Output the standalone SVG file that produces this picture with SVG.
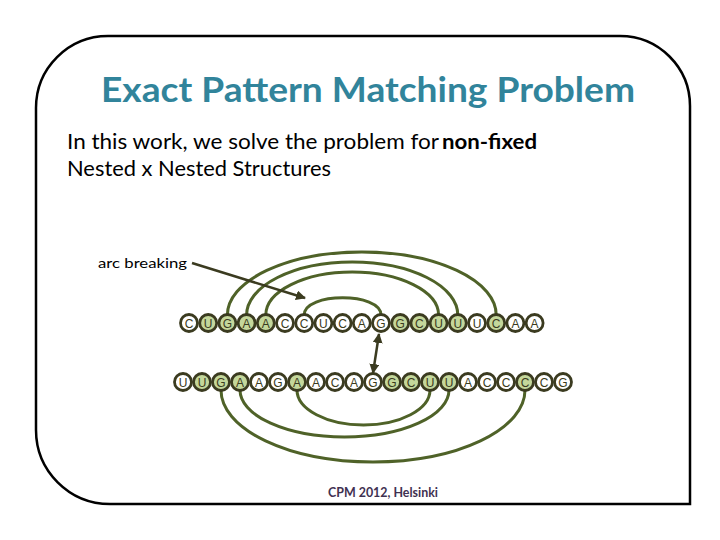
<svg xmlns="http://www.w3.org/2000/svg" width="720" height="540" viewBox="0 0 720 540">
<defs>
<style>
.frame{fill:none;stroke:#000;stroke-width:2.5}
.title{font-family:Lato,"Liberation Sans",sans-serif;font-weight:bold;font-size:35px;fill:#31849b}
.body{font-family:Lato,"Liberation Sans",sans-serif;font-size:21px;fill:#000}
.bold{font-weight:bold}
.small{font-family:Lato,"Liberation Sans",sans-serif;font-size:14px;fill:#000}
.foot{font-family:Lato,"Liberation Sans",sans-serif;font-size:13px;fill:#3f3151;font-weight:bold}
.nd circle{fill:#fff;stroke:#3b3b20;stroke-width:2.8}
.nd.hl circle{fill:#c4d79b}
.nd text{font-family:"Liberation Sans",Arial,sans-serif;font-size:12px;fill:#3b3b20;text-anchor:middle}
.arc{fill:none;stroke:#4f6228;stroke-width:3}
.ptr{fill:none;stroke:#3b3b20;stroke-width:2.5}
</style>
<marker id="ah" viewBox="0 0 10 10" refX="9" refY="5" markerWidth="4" markerHeight="4" orient="auto-start-reverse" markerUnits="strokeWidth">
<path d="M0,0 L10,5 L0,10 z" fill="#3b3b20"/>
</marker>
</defs>
<rect width="720" height="540" fill="#fff"/>
<path class="frame" d="M108,36 L620,36 A70,70 0 0 1 690,106 L690,504 L110,504 A74,74 0 0 1 36,430 L36,108 A72,72 0 0 1 108,36 Z"/>
<text class="title" x="101" y="102" textLength="534" lengthAdjust="spacingAndGlyphs">Exact Pattern Matching Problem</text>
<text class="body" x="67" y="149" textLength="372" lengthAdjust="spacingAndGlyphs">In this work, we solve the problem for</text>
<text class="body bold" x="442" y="149" textLength="95" lengthAdjust="spacingAndGlyphs">non-fixed</text>
<text class="body" x="67" y="176" textLength="264" lengthAdjust="spacingAndGlyphs">Nested x Nested Structures</text>
<text class="small" x="98" y="268" textLength="89" lengthAdjust="spacingAndGlyphs">arc breaking</text>
<text class="foot" x="328" y="497" textLength="110" lengthAdjust="spacingAndGlyphs">CPM 2012, Helsinki</text>
<g id="connectors">
<path class="arc" d="M227.4,315 A134.4,63 0 0 1 496.2,315"/>
<path class="arc" d="M246.6,315 A105.6,53 0 0 1 457.8,315"/>
<path class="arc" d="M265.8,315 A86.4,43 0 0 1 438.6,315"/>
<path class="arc" d="M304.2,315 C304.2,292 381,292 381,315"/>
<path class="arc" d="M221,390 A152,72 0 0 0 525,390"/>
<path class="arc" d="M240,390 A104.5,47 0 0 0 449,390"/>
<path class="arc" d="M297,390 A66.5,35 0 0 0 430,390"/>
<path class="ptr" marker-end="url(#ah)" d="M192,263 L305,298"/>
<path class="ptr" marker-start="url(#ah)" marker-end="url(#ah)" d="M379,334 L373,373"/>
</g>
<g id="top-row">
<g id="t0" class="nd"><circle cx="189" cy="323" r="8.5"/><text x="189" y="327.5">C</text></g>
<g id="t1" class="nd hl"><circle cx="208.2" cy="323" r="8.5"/><text x="208.2" y="327.5">U</text></g>
<g id="t2" class="nd hl"><circle cx="227.4" cy="323" r="8.5"/><text x="227.4" y="327.5">G</text></g>
<g id="t3" class="nd hl"><circle cx="246.6" cy="323" r="8.5"/><text x="246.6" y="327.5">A</text></g>
<g id="t4" class="nd hl"><circle cx="265.8" cy="323" r="8.5"/><text x="265.8" y="327.5">A</text></g>
<g id="t5" class="nd"><circle cx="285" cy="323" r="8.5"/><text x="285" y="327.5">C</text></g>
<g id="t6" class="nd"><circle cx="304.2" cy="323" r="8.5"/><text x="304.2" y="327.5">C</text></g>
<g id="t7" class="nd"><circle cx="323.4" cy="323" r="8.5"/><text x="323.4" y="327.5">U</text></g>
<g id="t8" class="nd"><circle cx="342.6" cy="323" r="8.5"/><text x="342.6" y="327.5">C</text></g>
<g id="t9" class="nd"><circle cx="361.8" cy="323" r="8.5"/><text x="361.8" y="327.5">A</text></g>
<g id="t10" class="nd"><circle cx="381" cy="323" r="8.5"/><text x="381" y="327.5">G</text></g>
<g id="t11" class="nd hl"><circle cx="400.2" cy="323" r="8.5"/><text x="400.2" y="327.5">G</text></g>
<g id="t12" class="nd hl"><circle cx="419.4" cy="323" r="8.5"/><text x="419.4" y="327.5">C</text></g>
<g id="t13" class="nd hl"><circle cx="438.6" cy="323" r="8.5"/><text x="438.6" y="327.5">U</text></g>
<g id="t14" class="nd hl"><circle cx="457.8" cy="323" r="8.5"/><text x="457.8" y="327.5">U</text></g>
<g id="t15" class="nd"><circle cx="477" cy="323" r="8.5"/><text x="477" y="327.5">U</text></g>
<g id="t16" class="nd hl"><circle cx="496.2" cy="323" r="8.5"/><text x="496.2" y="327.5">C</text></g>
<g id="t17" class="nd"><circle cx="515.4" cy="323" r="8.5"/><text x="515.4" y="327.5">A</text></g>
<g id="t18" class="nd"><circle cx="534.6" cy="323" r="8.5"/><text x="534.6" y="327.5">A</text></g>
</g>
<g id="bottom-row">
<g id="b0" class="nd"><circle cx="183" cy="382" r="8.5"/><text x="183" y="386.5">U</text></g>
<g id="b1" class="nd hl"><circle cx="202" cy="382" r="8.5"/><text x="202" y="386.5">U</text></g>
<g id="b2" class="nd hl"><circle cx="221" cy="382" r="8.5"/><text x="221" y="386.5">G</text></g>
<g id="b3" class="nd hl"><circle cx="240" cy="382" r="8.5"/><text x="240" y="386.5">A</text></g>
<g id="b4" class="nd"><circle cx="259" cy="382" r="8.5"/><text x="259" y="386.5">A</text></g>
<g id="b5" class="nd"><circle cx="278" cy="382" r="8.5"/><text x="278" y="386.5">G</text></g>
<g id="b6" class="nd hl"><circle cx="297" cy="382" r="8.5"/><text x="297" y="386.5">A</text></g>
<g id="b7" class="nd"><circle cx="316" cy="382" r="8.5"/><text x="316" y="386.5">A</text></g>
<g id="b8" class="nd"><circle cx="335" cy="382" r="8.5"/><text x="335" y="386.5">C</text></g>
<g id="b9" class="nd"><circle cx="354" cy="382" r="8.5"/><text x="354" y="386.5">A</text></g>
<g id="b10" class="nd"><circle cx="373" cy="382" r="8.5"/><text x="373" y="386.5">G</text></g>
<g id="b11" class="nd hl"><circle cx="392" cy="382" r="8.5"/><text x="392" y="386.5">G</text></g>
<g id="b12" class="nd hl"><circle cx="411" cy="382" r="8.5"/><text x="411" y="386.5">C</text></g>
<g id="b13" class="nd hl"><circle cx="430" cy="382" r="8.5"/><text x="430" y="386.5">U</text></g>
<g id="b14" class="nd hl"><circle cx="449" cy="382" r="8.5"/><text x="449" y="386.5">U</text></g>
<g id="b15" class="nd"><circle cx="468" cy="382" r="8.5"/><text x="468" y="386.5">A</text></g>
<g id="b16" class="nd"><circle cx="487" cy="382" r="8.5"/><text x="487" y="386.5">C</text></g>
<g id="b17" class="nd"><circle cx="506" cy="382" r="8.5"/><text x="506" y="386.5">C</text></g>
<g id="b18" class="nd hl"><circle cx="525" cy="382" r="8.5"/><text x="525" y="386.5">C</text></g>
<g id="b19" class="nd"><circle cx="544" cy="382" r="8.5"/><text x="544" y="386.5">C</text></g>
<g id="b20" class="nd"><circle cx="563" cy="382" r="8.5"/><text x="563" y="386.5">G</text></g>
</g>
</svg>
